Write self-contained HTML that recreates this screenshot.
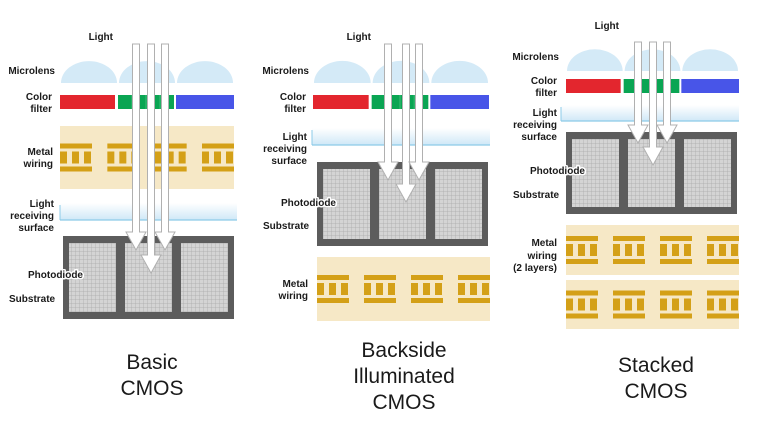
<!DOCTYPE html>
<html><head><meta charset="utf-8"><style>
html,body{margin:0;padding:0;background:#fff;}
svg{display:block;}
text{font-family:"Liberation Sans",sans-serif;fill:#1a1a1a;}
.lb{font-size:10px;font-weight:bold;}
.halo{stroke:#fff;stroke-width:3px;paint-order:stroke;stroke-linejoin:round;}
.tt{font-size:21px;}
</style></head><body>
<svg id="d" width="768" height="432" viewBox="0 0 768 432" xmlns="http://www.w3.org/2000/svg">
<defs>
<pattern id="grid" width="4" height="4" patternUnits="userSpaceOnUse">
<rect width="4" height="4" fill="#d4d4d4"/>
<path d="M4 0V4M0 4H4" stroke="#a9a9a9" stroke-width="0.7" fill="none"/>
</pattern>
<linearGradient id="lrs" x1="0" y1="0" x2="0" y2="1">
<stop offset="0" stop-color="#ffffff"/><stop offset="1" stop-color="#cfe8f7"/>
</linearGradient>
</defs>
</svg>
<script>
const NS='http://www.w3.org/2000/svg';
const svg=document.getElementById('d');
function el(tag,attrs,parent,text){const e=document.createElementNS(NS,tag);for(const k in attrs)e.setAttribute(k,attrs[k]);if(text!==undefined)e.textContent=text;(parent||svg).appendChild(e);return e;}
function grp(name){const g=el('g',{});return g;}
function microlens(x,y,w,name){const g=grp(name);const cells=[0,1,2];cells.forEach(i=>{const cx=x+i*(w/3)+w/6;const r=(w/3)/2-1;el('path',{d:`M${cx-r} ${y+21} A${r} ${r*0.78} 0 0 1 ${cx+r} ${y+21} Z`,fill:'#d4eaf7'},g);});}
function filter(x,y,w,name){const g=grp(name);const s=w/3;el('rect',{x:x,y:y,width:s-3,height:14,fill:'#e3262e'},g);el('rect',{x:x+s,y:y,width:s-2,height:14,fill:'#0aa553'},g);[0.25,0.5,0.75].forEach(f=>el('rect',{x:x+s+(s-2)*f-0.5,y:y,width:1,height:14,fill:'#3dbd77'},g));el('rect',{x:x+2*s,y:y,width:s,height:14,fill:'#4855e8'},g);}
function wiring(x,y,w,h,name){const g=grp(name);el('rect',{x:x,y:y,width:w,height:h,fill:'#f6e8c6'},g);const uw=32;const gap=(w-4*uw)/3;const cy=y+h/2;for(let i=0;i<4;i++){const ux=x+i*(uw+gap);el('rect',{x:ux,y:cy-14,width:uw,height:5,fill:'#d4a017'},g);el('rect',{x:ux,y:cy+9,width:uw,height:5,fill:'#d4a017'},g);[0,12,24].forEach(o=>el('rect',{x:ux+o,y:cy-6,width:7,height:12,fill:'#d4a017'},g));}}
function lrs(x,y,w,h,name){const g=grp(name);el('rect',{x:x,y:y,width:w,height:h,fill:'url(#lrs)'},g);el('line',{x1:x,y1:y+h,x2:x+w,y2:y+h,stroke:'#8ccbe8','stroke-width':1.2},g);el('line',{x1:x,y1:y+2,x2:x,y2:y+h,stroke:'#8ccbe8','stroke-width':1},g);}
function substrate(x,y,w,h,name){const g=grp(name);el('rect',{x:x,y:y,width:w,height:h,fill:'#5c5c5c'},g);const cw=(w-6*2-2*9)/3;for(let i=0;i<3;i++){el('rect',{x:x+6+i*(cw+9),y:y+7,width:cw,height:h-14,fill:'url(#grid)'},g);}}
function arrows(xs,top,ends,name){const g=grp(name);xs.forEach((cx,i)=>{const e=ends[i];const hw=3.5,H=10,hh=18;el('path',{d:`M${cx-hw} ${top} L${cx-hw} ${e-hh} L${cx-H} ${e-hh} L${cx} ${e} L${cx+H} ${e-hh} L${cx+hw} ${e-hh} L${cx+hw} ${top} Z`,fill:'#fff',stroke:'#b0b0b0','stroke-width':1},g);});}
function label(x,ys,lines,anchor,name,cls){const t=el('text',{class:'lb'+(cls?' '+cls:''),'text-anchor':anchor||'end'});lines.forEach((l,i)=>el('tspan',{x:x,y:ys[i]},t,l));return t;}
function title(cx,ys,lines,name){const t=el('text',{class:'tt','text-anchor':'middle'});lines.forEach((l,i)=>el('tspan',{x:cx,y:ys[i]},t,l));}

// Panel 1: Basic CMOS
microlens(60,62,174,'basic-microlens');
filter(60,95,174,'basic-color-filter');
wiring(60,126,174,63,'basic-metal-wiring');
lrs(60,203,177,17,'basic-light-receiving-surface');
substrate(63,236,171,83,'basic-substrate');
arrows([136,151,165],44,[250,273,250],'basic-light-arrows');
label(113,[40],['Light'],'end','basic-light-label');
label(55,[74],['Microlens'],'end','basic-microlens-label');
label(52,[100,112],['Color','filter'],'end','basic-color-filter-label');
label(53,[155,167],['Metal','wiring'],'end','basic-metal-wiring-label');
label(54,[207,219,231],['Light','receiving','surface'],'end','basic-lrs-label');
label(28,[278],['Photodiode'],'start','basic-photodiode-label','halo');
label(9,[302],['Substrate'],'start','basic-substrate-label');
title(152,[369,395],['Basic','CMOS'],'basic-cmos-title');

// Panel 2: Backside Illuminated
microlens(313,62,176,'bsi-microlens');
filter(313,95,176,'bsi-color-filter');
lrs(312,128,178,17,'bsi-light-receiving-surface');
substrate(317,162,171,84,'bsi-substrate');
wiring(317,257,173,64,'bsi-metal-wiring');
arrows([388,406,419],44,[180,202,180],'bsi-light-arrows');
label(371,[40],['Light'],'end','bsi-light-label');
label(309,[74],['Microlens'],'end','bsi-microlens-label');
label(306,[100,112],['Color','filter'],'end','bsi-color-filter-label');
label(307,[140,152,164],['Light','receiving','surface'],'end','bsi-lrs-label');
label(281,[206],['Photodiode'],'start','bsi-photodiode-label','halo');
label(263,[229],['Substrate'],'start','bsi-substrate-label');
label(308,[287,299],['Metal','wiring'],'end','bsi-metal-wiring-label');
title(404,[357,383,409],['Backside','Illuminated','CMOS'],'bsi-cmos-title');

// Panel 3: Stacked
microlens(566,50,173,'stacked-microlens');
filter(566,79,173,'stacked-color-filter');
lrs(561,105,178,16,'stacked-light-receiving-surface');
substrate(566,132,171,82,'stacked-substrate');
wiring(566,225,173,50,'stacked-metal-wiring-1');
wiring(566,280,173,49,'stacked-metal-wiring-2');
arrows([638,653,667],42,[143,165,143],'stacked-light-arrows');
label(619,[29],['Light'],'end','stacked-light-label');
label(559,[60],['Microlens'],'end','stacked-microlens-label');
label(557,[84,96],['Color','filter'],'end','stacked-color-filter-label');
label(557,[116,128,140],['Light','receiving','surface'],'end','stacked-lrs-label');
label(530,[174],['Photodiode'],'start','stacked-photodiode-label','halo');
label(513,[198],['Substrate'],'start','stacked-substrate-label');
label(557,[246,259,271],['Metal','wiring','(2 layers)'],'end','stacked-metal-wiring-label');
title(656,[372,398],['Stacked','CMOS'],'stacked-cmos-title');
</script>
</body></html>
